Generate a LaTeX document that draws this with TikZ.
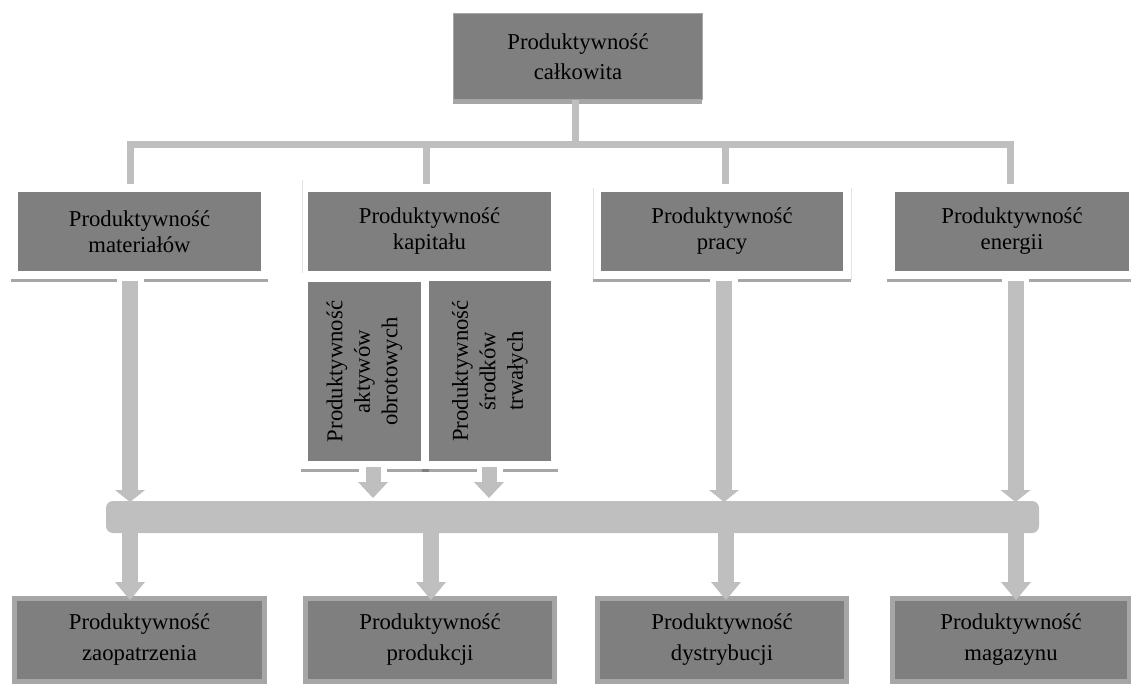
\documentclass[tikz,border=0pt]{standalone}
\usepackage{fontspec}
\setmainfont{Liberation Serif}
\usetikzlibrary{arrows.meta}
\definecolor{boxgray}{HTML}{7F7F7F}
\definecolor{conngray}{HTML}{BFBFBF}
\definecolor{edgegray}{HTML}{A6A6A6}
\definecolor{faintgray}{HTML}{E3E3E3}
\begin{document}
\begin{tikzpicture}[x=1pt,y=-1pt,
  box/.style={fill=boxgray, inner sep=0pt, align=center, text=black},
  topbox/.style={box, draw=edgegray, line width=1pt, minimum width=249pt, minimum height=86pt, font=\fontsize{22.7}{30}\selectfont},
  midbox/.style={box, minimum height=79pt, font=\fontsize{22.7}{26}\selectfont},
  subbox/.style={box, rotate=90, minimum width=179pt, font=\fontsize{22.7}{27.5}\selectfont},
  lowbox/.style={box, draw=edgegray, line width=5pt, minimum height=83pt, font=\fontsize{22.7}{31}\selectfont},
  conn/.style={draw=conngray, line width=7pt},
  shadowline/.style={draw=edgegray, line width=3pt},
  faintline/.style={draw=faintgray, line width=1pt},
  arrin/.style={draw=conngray, line width=16pt, -{Triangle[length=12pt 0 0, width=30pt 0 0, line width=0pt 0 0]}},
  arrsub/.style={draw=conngray, line width=15pt, -{Triangle[length=16pt 0 0, width=30pt 0 0, line width=0pt 0 0]}},
  arrout/.style={draw=conngray, line width=16pt, -{Triangle[length=18pt 0 0, width=30pt 0 0, line width=0pt 0 0]}}
]
\useasboundingbox (0,0) rectangle (1131,684);

% top box
\node[topbox] (top) at (578,56.5) {Produktywność\\całkowita};
\fill[edgegray] (top.south west) rectangle ++(249,4);

% faint artefact lines
\draw[faintline] (302,180) -- (302,273);
\draw[faintline] (593,188) -- (593,280);
\draw[faintline] (851,188) -- (851,280);

% tree connector
\coordinate (tdrop) at (575,144.5);
\coordinate (d1) at (130,184);
\coordinate (d2) at (426,184);
\coordinate (d3) at (725,184);
\coordinate (d4) at (1010,184);
\coordinate (h1) at (130,144.5);
\coordinate (h2) at (426,144.5);
\coordinate (h3) at (725,144.5);
\coordinate (h4) at (1010,144.5);
\draw[conn] (top.south -| tdrop) -- (tdrop);
\draw[conn, line join=miter] (d1) -- (h1) -- (h4) -- (d4);
\draw[conn] (h2) -- (d2);
\draw[conn] (h3) -- (d3);

% level 2 boxes
\node[midbox, minimum width=243pt] (mat) at (139.5,231.5) {Produktywność\\materiałów};
\node[midbox, minimum width=243pt] (kap) at (429.5,231.5) {Produktywność\\kapitału};
\node[midbox, minimum width=242pt] (pra) at (722,231.5) {Produktywność\\pracy};
\node[midbox, minimum width=234pt] (ene) at (1012,231.5) {Produktywność\\energii};

% sub boxes of kapitał
\node[subbox, minimum height=113pt] (akt) at (364.5,371.5) {Produktywność\\aktywów\\obrotowych};
\node[subbox, minimum height=122pt] (srt) at (490,371) {Produktywność\\środków\\trwałych};

% shadow lines under level 2
\draw[shadowline] (11,280.5) -- (117,280.5);
\draw[shadowline] (144,280.5) -- (268,280.5);
\draw[shadowline] (593,280.5) -- (710,280.5);
\draw[shadowline] (738,280.5) -- (851,280.5);
\draw[shadowline] (887,280.5) -- (1002,280.5);
\draw[shadowline] (1029,280.5) -- (1131,280.5);
\draw[shadowline] (301,470) -- (359,470);
\draw[shadowline] (387,470) -- (477,470);
\draw[shadowline] (503,470) -- (558,470);
\draw[draw=boxgray, line width=3pt] (422,470) -- (429,470);

% bus bar
\node[fill=conngray, rounded corners=7pt, minimum width=933pt, minimum height=32pt, inner sep=0pt] (bar) at (572.5,517) {};

% arrows into bar
\coordinate (a1s) at (130,281);  \coordinate (a1e) at (130,502);
\coordinate (a2s) at (373,467);  \coordinate (a2e) at (373,498);
\coordinate (a3s) at (489,467);  \coordinate (a3e) at (489,498);
\coordinate (a4s) at (724,281);  \coordinate (a4e) at (724,502);
\coordinate (a5s) at (1015.5,281); \coordinate (a5e) at (1015.5,502);
\draw[arrin] (a1s) -- (a1e);
\draw[arrsub] (a2s) -- (a2e);
\draw[arrsub] (a3s) -- (a3e);
\draw[arrin] (a4s) -- (a4e);
\draw[arrin] (a5s) -- (a5e);

% bottom boxes
\node[lowbox, minimum width=250pt] (zao) at (139.5,640) {Produktywność\\zaopatrzenia};
\node[lowbox, minimum width=249pt] (pro) at (430,640) {Produktywność\\produkcji};
\node[lowbox, minimum width=249pt] (dys) at (722,640) {Produktywność\\dystrybucji};
\node[lowbox, minimum width=237pt] (mag) at (1011,640) {Produktywność\\magazynu};

% arrows out of bar
\coordinate (b1) at (130,533);  \coordinate (c1) at (130,600);
\coordinate (b2) at (431,533);  \coordinate (c2) at (431,600);
\coordinate (b3) at (726,533);  \coordinate (c3) at (726,600);
\coordinate (b4) at (1016,533); \coordinate (c4) at (1016,600);
\draw[arrout] (b1) -- (c1);
\draw[arrout] (b2) -- (c2);
\draw[arrout] (b3) -- (c3);
\draw[arrout] (b4) -- (c4);
\end{tikzpicture}
\end{document}
